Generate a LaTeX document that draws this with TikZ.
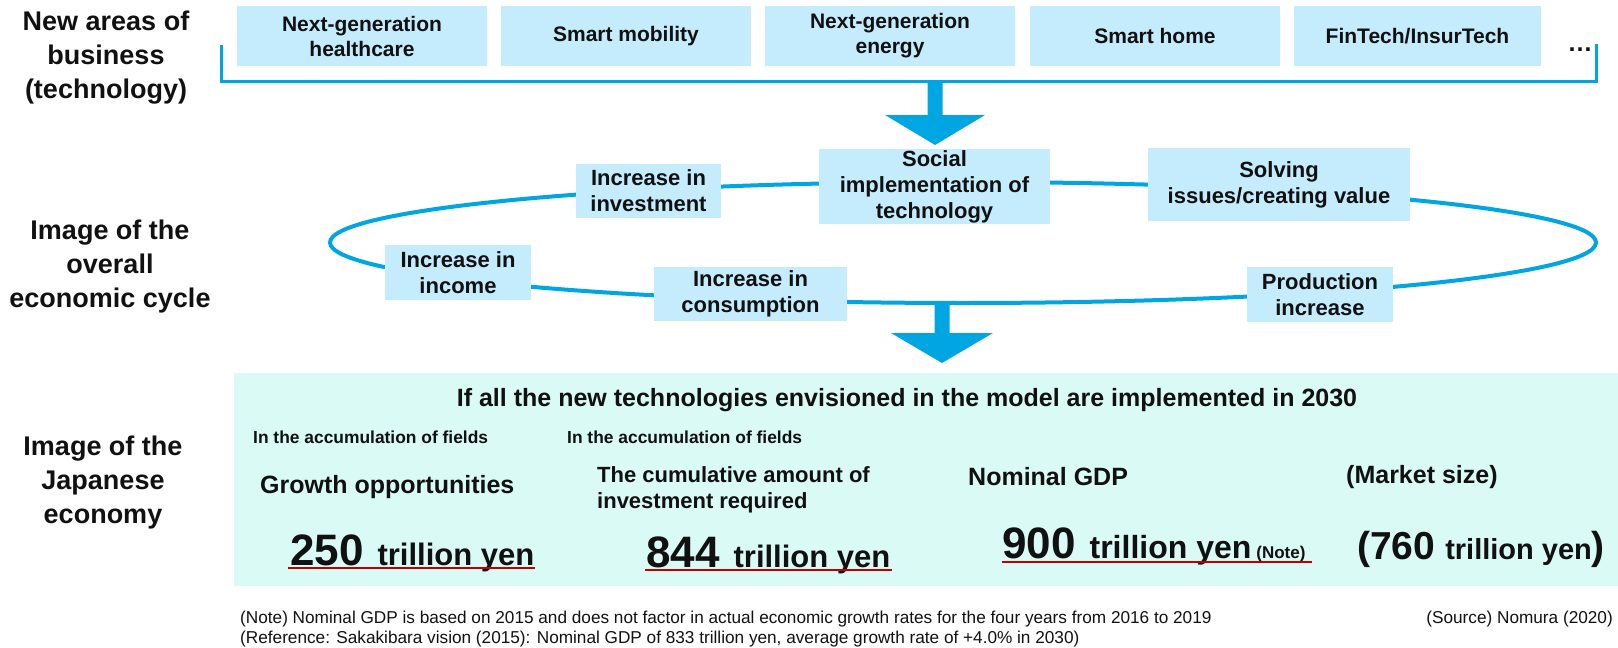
\documentclass[tikz,border=0pt]{standalone}
\usepackage{fontspec}
\setmainfont{Liberation Sans}
\usetikzlibrary{shapes.geometric}
\definecolor{cyanline}{RGB}{0,166,226}
\definecolor{boxblue}{RGB}{196,236,252}
\definecolor{mint}{RGB}{217,250,245}
\definecolor{ulred}{RGB}{192,0,0}
\definecolor{ink}{RGB}{17,17,17}
\newcommand{\myfs}[2]{\fontsize{#1}{#2}\selectfont}
\begin{document}
\begin{tikzpicture}[x=1pt,y=-1pt,
  every node/.style={text=ink},
  tbox/.style={fill=boxblue, inner sep=0pt, align=center, font=\bfseries\myfs{21}{25}},
  cbox/.style={fill=boxblue, inner sep=0pt, align=center, font=\bfseries\myfs{22}{26}},
  sidelabel/.style={align=center, font=\bfseries\myfs{27}{34}},
  bigtxt/.style={font=\bfseries\myfs{25}{26}, inner sep=0pt},
  valtxt/.style={inner sep=0pt, anchor=base west, font=\bfseries},
  note/.style={font=\myfs{17.2}{20}, inner sep=0pt},
  link/.style={draw=cyanline, line width=3pt},
  blockarrow/.style={fill=cyanline},
  uline/.style={draw=ulred, line width=2.6pt}]
\useasboundingbox (0,0) rectangle (1618,648);

% side labels
\node[sidelabel] (lab1) at (106,58) {New areas of\\business\\(technology)};
\node[sidelabel] (lab2) at (110,267) {Image of the\\overall\\economic cycle};
\node[sidelabel] (lab3) at (103,483) {Image of the\\Japanese\\economy};

% top bracket
\coordinate (brL) at (221,45);
\coordinate (brR) at (1596,44);
\coordinate (brB) at (1596,81);
\draw[link] (brL) |- (brB) -- (brR);

% top boxes
\node[tbox, minimum width=250pt, minimum height=60pt] (b1) at (362,36) {Next-generation\\healthcare};
\node[tbox, minimum width=250pt, minimum height=60pt] (b2) at (626,36) {Smart mobility};
\node[tbox, minimum width=250pt, minimum height=60pt] (b3) at (890,36) {Next-generation\\energy};
\node[tbox, minimum width=250pt, minimum height=60pt] (b4) at (1155,36) {Smart home};
\node[tbox, minimum width=247pt, minimum height=60pt] (b5) at (1417.5,36) {FinTech/InsurTech};
\node[inner sep=0pt, font=\bfseries\myfs{25}{26}] (dots) at (1580,50) {…};

% upper block arrow
\fill[blockarrow] (927.5,81) -- (942.5,81) -- (942.5,115) -- (985,115) -- (935,145) -- (885,115) -- (927.5,115) -- cycle;

% cycle ellipse
\node[draw=cyanline, line width=4pt, ellipse, minimum width=1266pt, minimum height=121pt, inner sep=0pt, outer sep=0pt] (cyc) at (963,242.5) {};

\node[cbox, minimum width=145pt, minimum height=54pt] (inv) at (648.5,191) {Increase in\\investment};
\node[cbox, minimum width=231pt, minimum height=75pt] (soc) at (934.5,186.5) {Social\\implementation of\\technology};
\node[cbox, minimum width=262pt, minimum height=73pt] (sol) at (1279,184.5) {Solving\\issues/creating value};
\node[cbox, minimum width=146pt, minimum height=55pt] (inc) at (458,272.5) {Increase in\\income};
\node[cbox, minimum width=193pt, minimum height=54pt] (con) at (750.5,294) {Increase in\\consumption};
\node[cbox, minimum width=146pt, minimum height=55pt] (pro) at (1320,294.5) {Production\\increase};

% lower block arrow
\fill[blockarrow] (934.5,303) -- (949.5,303) -- (949.5,333) -- (993,333) -- (942,363) -- (891,333) -- (934.5,333) -- cycle;

% bottom panel
\fill[mint] (234,373) rectangle (1618,586);
\node[bigtxt] (title) at (907,400) {If all the new technologies envisioned in the model are implemented in 2030};
\node[font=\bfseries\myfs{17.4}{20}, inner sep=0pt, anchor=west] (acc1) at (253,437) {In the accumulation of fields};
\node[font=\bfseries\myfs{17.4}{20}, inner sep=0pt, anchor=west] (acc2) at (567,437) {In the accumulation of fields};
\node[bigtxt, anchor=west] (gro) at (260,487) {Growth opportunities};
\node[font=\bfseries\myfs{22}{26}, inner sep=0pt, anchor=west, align=left] (cum) at (597,490) {The cumulative amount of\\investment required};
\node[bigtxt, anchor=west] (gdp) at (968,477) {Nominal GDP};
\node[bigtxt, anchor=west] (mkt) at (1346,477) {(Market size)};

\node[valtxt] (v1) at (290,565) {{\myfs{44}{46}250}\hspace{14pt}{\myfs{31}{34}trillion yen}};
\node[valtxt] (v2) at (646,567) {{\myfs{44}{46}844}\hspace{14pt}{\myfs{31}{34}trillion yen}};
\node[valtxt] (v3) at (1002,558) {{\myfs{44}{46}900}\hspace{14pt}{\myfs{32}{34}trillion yen}\hspace{5pt}{\myfs{17}{19}(Note)}};
\node[valtxt] (v4) at (1357,559) {{\myfs{39}{42}(760}\hspace{10pt}{\myfs{29}{32}trillion yen}{\myfs{39}{42})}};
\draw[uline] (288,568) -- (535,568);
\draw[uline] (645,570) -- (892,570);
\draw[uline] (1002,562) -- (1312,562);

% notes
\node[note, anchor=west] (n1) at (240,619) {(Note) Nominal GDP is based on 2015 and does not factor in actual economic growth rates for the four years from 2016 to 2019};
\node[note, anchor=west] (n2) at (240,639) {(Reference: Sakakibara vision (2015): Nominal GDP of 833 trillion yen, average growth rate of +4.0\% in 2030)};
\node[note, anchor=east] (src) at (1613,619) {(Source) Nomura (2020)};
\end{tikzpicture}
\end{document}
